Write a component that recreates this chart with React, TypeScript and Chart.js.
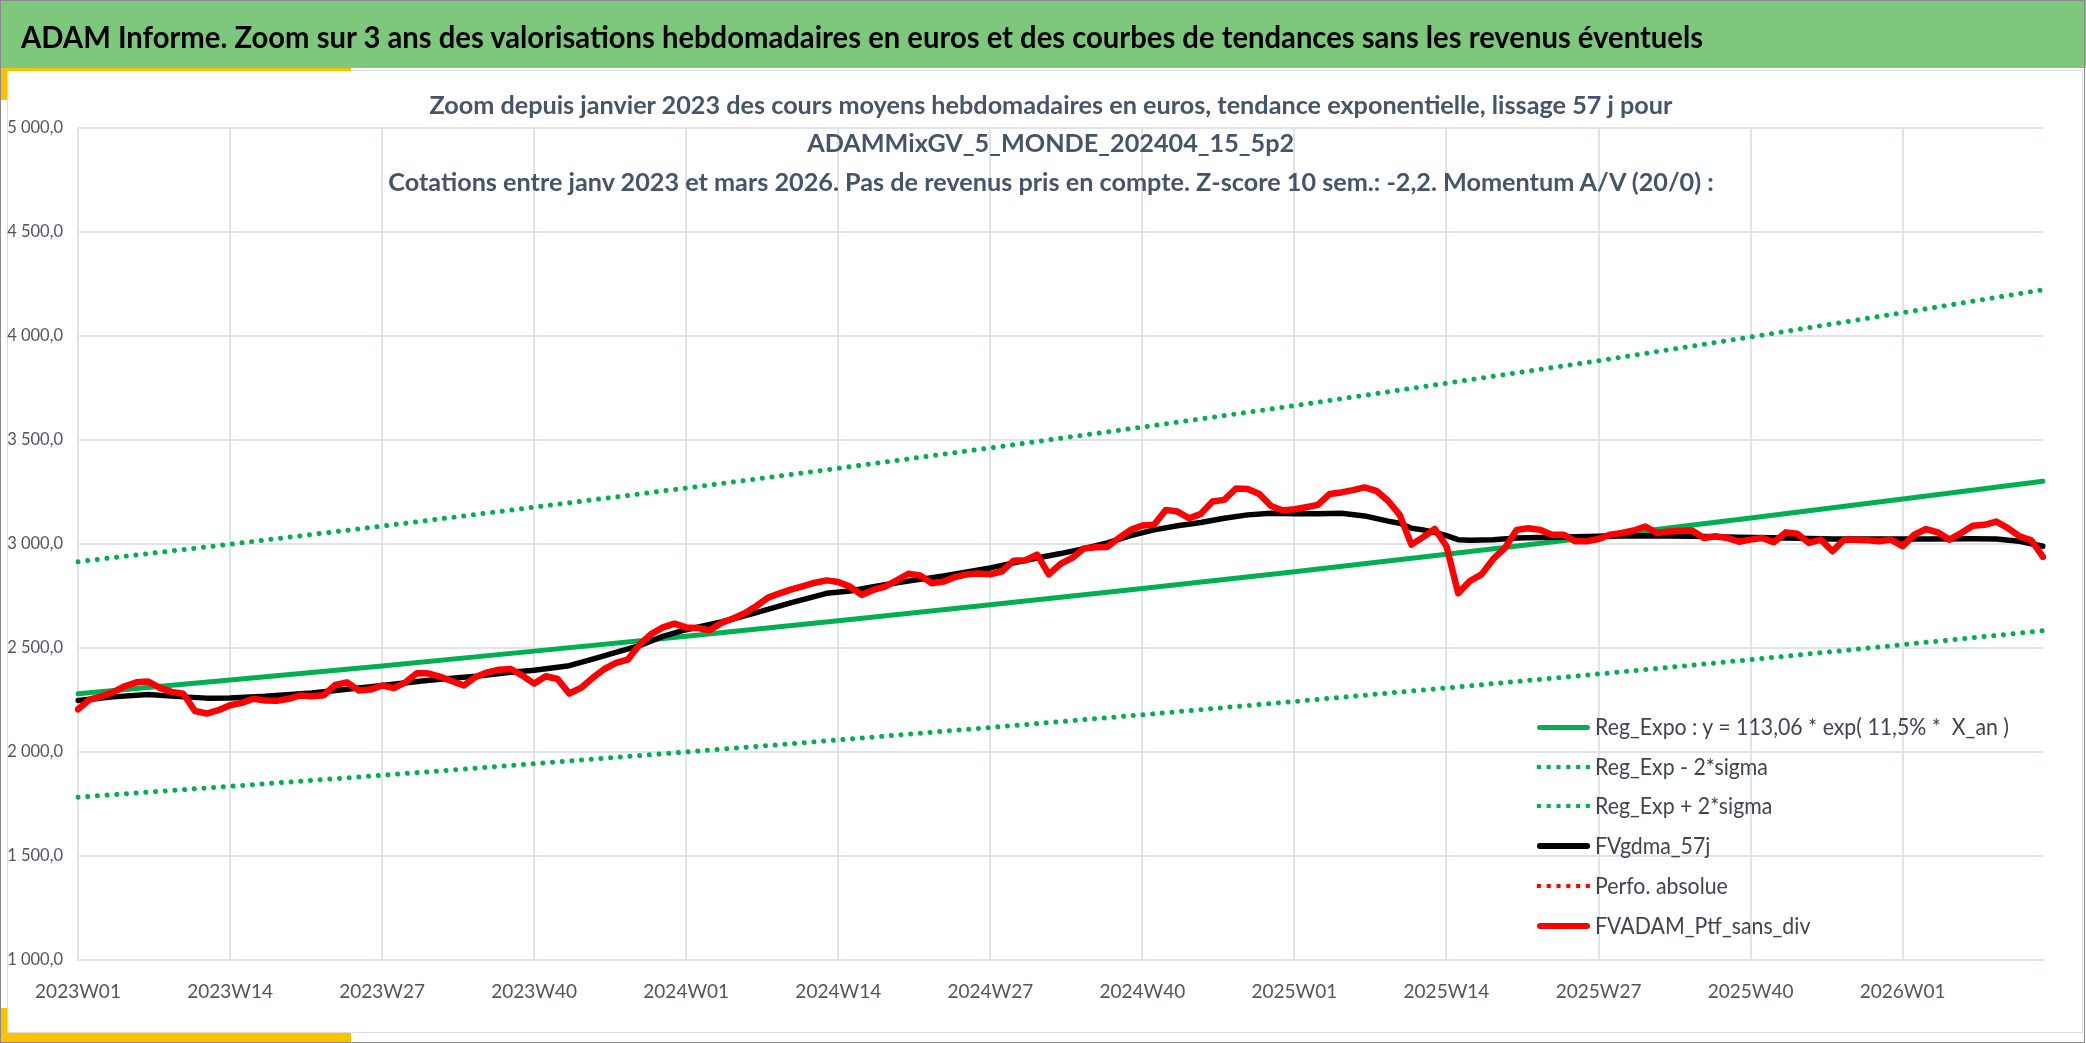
import React, { useEffect, useLayoutEffect, useRef } from 'react';
import { Chart, registerables } from 'chart.js';

Chart.register(...registerables);

// ---------------- categories (ISO weeks, janv 2023 -> mars 2026) ----------------
const firstYear = 2023;
const weeksShownPerYear = [52, 52, 52, 13];
const weekLabels: string[] = weeksShownPerYear.flatMap((n, k) =>
  Array.from({ length: n }, (_, w) => `${firstYear + k}W${String(w + 1).padStart(2, '0')}`)
);
const labelEvery = 13;

// ---------------- y axis ----------------
const yMin = 1000;
const yMax = 5000;
const yStep = 500;

// ---------------- series values ----------------
// FVADAM_Ptf_sans_div : weekly values, one row per 13 weeks
const ptfSansDiv = [
  2205, 2252, 2268, 2288, 2316, 2335, 2339, 2308, 2289, 2280, 2197, 2185, 2201,
  2225, 2236, 2256, 2248, 2246, 2256, 2272, 2268, 2273, 2323, 2335, 2296, 2300,
  2320, 2307, 2335, 2380, 2377, 2361, 2340, 2320, 2361, 2383, 2396, 2399, 2367,
  2329, 2364, 2351, 2281, 2308, 2356, 2399, 2428, 2444, 2516, 2567, 2599, 2617,
  2599, 2596, 2585, 2620, 2642, 2667, 2702, 2742, 2763, 2782, 2798, 2814, 2825,
  2817, 2795, 2755, 2779, 2795, 2825, 2857, 2849, 2811, 2819, 2841, 2854, 2858,
  2854, 2869, 2920, 2922, 2949, 2854, 2904, 2933, 2978, 2984, 2986, 3029, 3068,
  3089, 3092, 3164, 3156, 3124, 3145, 3204, 3212, 3267, 3264, 3240, 3183, 3161,
  3167, 3177, 3188, 3240, 3248, 3259, 3272, 3256, 3208, 3140, 2997, 3033, 3072,
  2989, 2763, 2822, 2854, 2928, 2981, 3068, 3076, 3068, 3045, 3045, 3013, 3013,
  3024, 3045, 3053, 3065, 3084, 3053, 3060, 3064, 3065, 3029, 3037, 3029, 3011,
  3021, 3029, 3008, 3056, 3049, 3005, 3021, 2965, 3021, 3021, 3018, 3013, 3021,
  2989, 3045, 3072, 3056, 3021, 3053, 3088, 3092, 3108, 3076, 3037, 3018, 2938,
];

// FVgdma_57j : smoothed curve, read at these week indices
const gdmaWeeks = [
  0, 3, 6, 9, 11, 13, 16, 20, 24, 26, 30, 34, 37, 39, 42, 44, 46, 48, 50, 52,
  55, 58, 61, 64, 66, 68, 70, 72, 74, 76, 78, 80, 82, 84, 86, 88, 90, 92, 94, 96,
  98, 100, 102, 104, 106, 108, 110, 112, 113, 114, 115, 116, 117, 118, 119, 121, 123, 126, 130, 134,
  138, 142, 146, 150, 154, 158, 162, 164, 166, 168,
];
const gdmaValues = [
  2248, 2265, 2276, 2265, 2259, 2260, 2268, 2284, 2308, 2320, 2345, 2364, 2383, 2393, 2415, 2447, 2479, 2511, 2556, 2588,
  2625, 2670, 2718, 2763, 2774, 2795, 2814, 2830, 2846, 2865, 2885, 2909, 2933, 2954, 2978, 3005, 3040, 3068, 3088, 3103,
  3124, 3140, 3148, 3145, 3145, 3148, 3135, 3110, 3100, 3076, 3068, 3056, 3040, 3021, 3018, 3021, 3029, 3033, 3037, 3040,
  3037, 3033, 3029, 3024, 3024, 3024, 3025, 3024, 3013, 2989,
];

// Trend curves, read at each labelled week and at the last week
const trendWeeks = [0, 13, 26, 39, 52, 65, 78, 91, 104, 117, 130, 143, 156, 168];
const regExpo = [2280, 2346, 2414, 2485, 2557, 2631, 2708, 2786, 2867, 2951, 3036, 3125, 3216, 3302];
const regMinus2Sigma = [1783, 1835, 1888, 1944, 2000, 2058, 2118, 2179, 2243, 2308, 2375, 2444, 2516, 2583];
const regPlus2Sigma = [2915, 2999, 3086, 3177, 3269, 3364, 3462, 3562, 3665, 3773, 3881, 3995, 4112, 4222];

// Perfo. absolue : no visible point in this window
const perfoAbsolue: (number | null)[] = [];

// ---------------- texts ----------------
const mainTitle =
  'ADAM Informe. Zoom sur 3 ans des valorisations hebdomadaires en euros et des courbes de tendances sans les revenus éventuels';
const subTitleLines = [
  'Zoom depuis janvier 2023 des cours moyens hebdomadaires en euros, tendance exponentielle, lissage 57 j pour',
  'ADAMMixGV_5_MONDE_202404_15_5p2',
  'Cotations entre janv 2023 et mars 2026. Pas de revenus pris en compte. Z-score 10 sem.: -2,2. Momentum A/V (20/0) :',
];

// ---------------- styles / layout ----------------
const W = 2086;
const H = 1043;
const AREA = { left: 78, right: 2043, top: 128, bottom: 960 };
const FONT = 'Lato, "Open Sans", "Noto Sans", sans-serif';
const CAP_CENTER = 0.529; // cap-height centre below top for line-height 1 (Lato)
const GREEN = '#00b050';
const RED = '#ff0000';
const BLACK = '#000000';
const GRID = '#dfe3ea';
const TICK_COLOR = '#50555f';
const YELLOW = '#ffc000';

function sparse(weeks: number[], values: number[]): (number | null)[] {
  const out: (number | null)[] = weekLabels.map(() => null);
  weeks.forEach((w, k) => {
    out[w] = values[k];
  });
  return out;
}

type Serie = {
  label: string;
  color: string;
  dotted: boolean;
  width: number;
  order: number;
  data: (number | null)[];
};

const series: Serie[] = [
  { label: 'Reg_Expo : y = 113,06 * exp( 11,5% *  X_an )', color: GREEN, dotted: false, width: 5, order: 2, data: sparse(trendWeeks, regExpo) },
  { label: 'Reg_Exp - 2*sigma', color: GREEN, dotted: true, width: 5, order: 3, data: sparse(trendWeeks, regMinus2Sigma) },
  { label: 'Reg_Exp + 2*sigma', color: GREEN, dotted: true, width: 5, order: 3, data: sparse(trendWeeks, regPlus2Sigma) },
  { label: 'FVgdma_57j', color: BLACK, dotted: false, width: 5.5, order: 1, data: sparse(gdmaWeeks, gdmaValues) },
  { label: 'Perfo. absolue', color: RED, dotted: true, width: 5, order: 4, data: perfoAbsolue },
  { label: 'FVADAM_Ptf_sans_div', color: RED, dotted: false, width: 6.5, order: 0, data: ptfSansDiv },
];

const legendLayout = { sampleX: 1537, sampleW: 53, textX: 1595, rowCapY: [727, 767, 806, 846, 886, 926] };

function formatY(v: number): string {
  const int = String(Math.round(v)).replace(/\B(?=(\d{3})+(?!\d))/g, ' ');
  return `${int},0`;
}

type TextItem = { text: string; x: number; capY: number; align: 'left' | 'center' };

function TextGroup(props: {
  items: TextItem[];
  size: number;
  weight: number;
  color: string;
  fitIndex: number;
  fitWidth: number;
}) {
  const { items, size, weight, color, fitIndex, fitWidth } = props;
  const refs = useRef<(HTMLSpanElement | null)[]>([]);
  useLayoutEffect(() => {
    const apply = () => {
      const els = refs.current;
      els.forEach((el) => {
        if (el) el.style.transform = 'none';
      });
      const refEl = els[fitIndex];
      if (!refEl) return;
      const natural = refEl.getBoundingClientRect().width;
      const k = natural > 0 ? fitWidth / natural : 1;
      els.forEach((el, i) => {
        if (!el) return;
        const it = items[i];
        const w = el.getBoundingClientRect().width;
        if (it.align === 'center') {
          el.style.left = `${it.x - w / 2}px`;
          el.style.transformOrigin = '50% 50%';
        } else {
          el.style.left = `${it.x}px`;
          el.style.transformOrigin = '0 50%';
        }
        el.style.transform = `scaleX(${k})`;
      });
    };
    apply();
    const fonts = (document as any).fonts;
    if (fonts && fonts.ready) fonts.ready.then(apply);
  }, []);
  return (
    <>
      {items.map((it, i) => (
        <span
          key={i}
          ref={(el) => {
            refs.current[i] = el;
          }}
          style={{
            position: 'absolute',
            top: it.capY - CAP_CENTER * size,
            left: it.x,
            fontFamily: FONT,
            fontSize: size,
            fontWeight: weight,
            color,
            lineHeight: 1,
            whiteSpace: 'pre',
            zIndex: 3,
          }}
        >
          {it.text}
        </span>
      ))}
    </>
  );
}

function LegendSamples() {
  return (
    <>
      {series.map((s, i) => {
        const cy = legendLayout.rowCapY[i];
        if (s.dotted) {
          const step = 9.8;
          const h = 6;
          return (
            <div
              key={i}
              style={{
                position: 'absolute',
                left: legendLayout.sampleX - 3,
                top: cy - h / 2,
                width: step * 6,
                height: h,
                backgroundImage: `radial-gradient(circle at center, ${s.color} 0, ${s.color} 2.1px, rgba(255,255,255,0) 2.6px)`,
                backgroundSize: `${step}px ${h}px`,
                backgroundRepeat: 'repeat-x',
                zIndex: 3,
              }}
            />
          );
        }
        const t = Math.min(s.width, 6);
        return (
          <div
            key={i}
            style={{
              position: 'absolute',
              left: legendLayout.sampleX,
              top: cy - t / 2,
              width: legendLayout.sampleW,
              height: t,
              borderRadius: t / 2,
              background: s.color,
              zIndex: 3,
            }}
          />
        );
      })}
    </>
  );
}

function TrendChart() {
  const canvasRef = useRef<HTMLCanvasElement>(null);
  useEffect(() => {
    if (!canvasRef.current) return;
    Chart.defaults.font.family = FONT;
    const chart = new Chart(canvasRef.current, {
      type: 'line',
      data: {
        labels: weekLabels,
        datasets: series.map((s) => ({
          label: s.label,
          data: s.data,
          borderColor: s.color,
          backgroundColor: s.color,
          borderWidth: s.width,
          borderDash: s.dotted ? [0.01, 9.7] : [],
          borderCapStyle: 'round',
          borderJoinStyle: 'round',
          pointRadius: 0,
          pointHoverRadius: 0,
          tension: 0,
          spanGaps: true,
          fill: false,
          order: s.order,
        })) as any,
      },
      options: {
        animation: false,
        responsive: true,
        maintainAspectRatio: false,
        events: [],
        layout: { padding: { top: AREA.top, right: W - AREA.right, left: 0, bottom: 0 } },
        plugins: {
          legend: { display: false },
          title: { display: false },
          tooltip: { enabled: false },
        },
        scales: {
          x: {
            type: 'category',
            grid: {
              color: (ctx: any) => (ctx.index % labelEvery === 0 ? GRID : 'rgba(0,0,0,0)'),
              lineWidth: 2,
              drawTicks: false,
            },
            border: { color: GRID, width: 2 },
            ticks: {
              autoSkip: false,
              maxRotation: 0,
              minRotation: 0,
              padding: 20,
              color: TICK_COLOR,
              font: { family: FONT, size: 19 },
              callback: (_v: any, i: number) => (i % labelEvery === 0 ? weekLabels[i] : ''),
            },
            afterFit: (scale: any) => {
              scale.height = H - AREA.bottom;
            },
          },
          y: {
            min: yMin,
            max: yMax,
            grid: { color: GRID, lineWidth: 2, drawTicks: false },
            border: { display: false },
            ticks: {
              stepSize: yStep,
              padding: 15,
              color: TICK_COLOR,
              font: { family: FONT, size: 16.5 },
              callback: (v: any) => formatY(Number(v)),
            },
            afterFit: (scale: any) => {
              scale.width = AREA.left;
            },
          },
        },
      } as any,
    });
    return () => chart.destroy();
  }, []);
  return (
    <div style={{ position: 'absolute', left: 0, top: 0, width: W, height: H, zIndex: 1 }}>
      <canvas ref={canvasRef} />
    </div>
  );
}

export default function App() {
  const abs = (s: React.CSSProperties): React.CSSProperties => ({ position: 'absolute', ...s });
  return (
    <div style={{ position: 'absolute', left: 0, top: 0, width: W, height: H, background: '#ffffff', overflow: 'hidden' }}>
      {/* title band */}
      <div style={abs({ left: 0, top: 0, width: W, height: 68, background: '#7ec87e', zIndex: 0 })} />
      {/* inner panel border */}
      <div
        style={abs({
          left: 7,
          top: 70,
          width: 2083 - 7,
          height: 1033 - 70,
          border: '1px solid #dadde2',
          boxSizing: 'border-box',
          zIndex: 0,
        })}
      />
      {/* yellow accents */}
      <div style={abs({ left: 0, top: 68, width: 351, height: 3, background: YELLOW, zIndex: 0 })} />
      <div style={abs({ left: 1, top: 68, width: 6, height: 32, background: YELLOW, zIndex: 0 })} />
      <div style={abs({ left: 0, top: 1033, width: 351, height: 9, background: YELLOW, zIndex: 0 })} />
      <div style={abs({ left: 1, top: 1008, width: 6, height: 34, background: YELLOW, zIndex: 0 })} />

      <TrendChart />

      <TextGroup
        items={[{ text: mainTitle, x: 21, capY: 36.5, align: 'left' }]}
        size={30}
        weight={700}
        color="#000000"
        fitIndex={0}
        fitWidth={1682}
      />
      <TextGroup
        items={subTitleLines.map((t, i) => ({ text: t, x: 1051, capY: [106, 144, 183][i], align: 'center' as const }))}
        size={24.5}
        weight={700}
        color="#44546a"
        fitIndex={0}
        fitWidth={1243}
      />
      <LegendSamples />
      <TextGroup
        items={series.map((s, i) => ({ text: s.label, x: legendLayout.textX, capY: legendLayout.rowCapY[i], align: 'left' as const }))}
        size={23}
        weight={400}
        color="#3f444e"
        fitIndex={0}
        fitWidth={414}
      />

      {/* outer frame */}
      <div
        style={abs({
          left: 0,
          top: 0,
          width: 2085,
          height: H,
          border: '1px solid #8a8a8a',
          boxSizing: 'border-box',
          zIndex: 5,
          pointerEvents: 'none',
        })}
      />
    </div>
  );
}
